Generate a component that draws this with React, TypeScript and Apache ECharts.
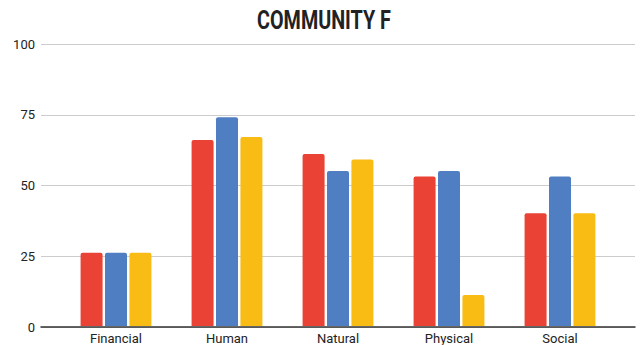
import React, { useEffect, useRef } from "react";
import * as echarts from "echarts";

const categories = ["Financial", "Human", "Natural", "Physical", "Social"];
const seriesA = [26, 66, 61, 53, 40];
const seriesB = [26, 74, 55, 55, 53];
const seriesC = [26, 67, 59, 11, 40];
const colors = ["#ea4335", "#4f7fc2", "#f9bc15"];
const yTicks = [0, 25, 50, 75, 100];
const titleText = "COMMUNITY F";

export default function App() {
  const ref = useRef<HTMLDivElement>(null);
  useEffect(() => {
    document.body.style.margin = "0";
    const chart = echarts.init(ref.current!, null, { renderer: "svg" });
    const mk = (name: string, data: number[], color: string) => ({
      name,
      type: "bar",
      xAxisIndex: 1,
      yAxisIndex: 1,
      data,
      barWidth: 22,
      barGap: "11%",
      itemStyle: { color, borderRadius: [2, 2, 0, 0] },
    });
    chart.setOption({
      animation: false,
      backgroundColor: "#ffffff",
      graphic: [
        {
          type: "text",
          x: 324,
          y: 20.5,
          scaleX: 0.79,
          style: {
            text: titleText,
            font: "bold 25px Roboto, sans-serif",
            fill: "#222222",
            align: "center",
            verticalAlign: "middle",
          },
        },
      ],
      grid: [
        { left: 41, right: 8, top: 44, bottom: 18 },
        { left: 60.5, right: 27.5, top: 44, bottom: 18 },
      ],
      xAxis: [
        {
          type: "value",
          gridIndex: 0,
          min: 0,
          max: 1,
          axisLine: { show: true, lineStyle: { color: "#333333", width: 1.5 } },
          axisTick: { show: false },
          axisLabel: { show: false },
          splitLine: { show: false },
        },
        {
          type: "category",
          gridIndex: 1,
          data: categories,
          axisLine: { show: false },
          axisTick: { show: false },
          axisLabel: {
            color: "#222222",
            fontSize: 13,
            fontFamily: "Roboto, sans-serif",
            margin: 6,
          },
        },
      ],
      yAxis: [
        {
          type: "value",
          gridIndex: 0,
          min: yTicks[0],
          max: yTicks[yTicks.length - 1],
          interval: 25,
          axisLine: { show: false },
          axisTick: { show: false },
          axisLabel: {
            color: "#222222",
            fontSize: 13,
            fontFamily: "Roboto, sans-serif",
            margin: 6,
          },
          splitLine: { lineStyle: { color: "#cccccc", width: 1 } },
        },
        {
          type: "value",
          gridIndex: 1,
          min: 0,
          max: 100,
          interval: 25,
          show: false,
          splitLine: { show: false },
        },
      ],
      series: [
        mk("A", seriesA, colors[0]),
        mk("B", seriesB, colors[1]),
        mk("C", seriesC, colors[2]),
      ],
    });
    return () => chart.dispose();
  }, []);
  return (
    <div
      ref={ref}
      style={{ width: 643, height: 345, position: "absolute", left: 0, top: 0 }}
    />
  );
}
